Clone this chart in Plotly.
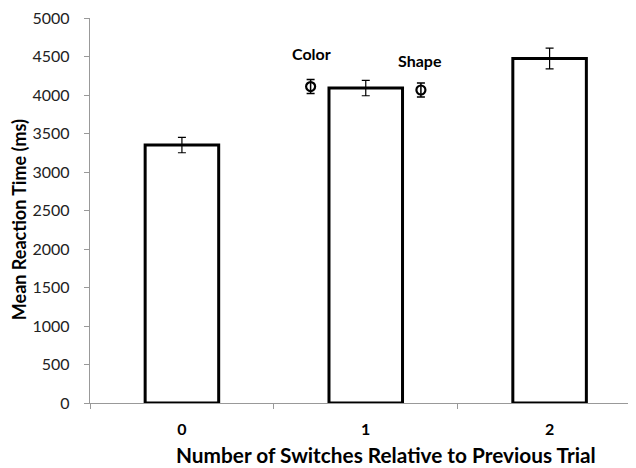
import plotly.graph_objects as go

categories = [0, 1, 2]
cat_labels = ["0", "1", "2"]
bar_means = [3350, 4090, 4475]
bar_errors = [100, 100, 135]

point_names = ["Color", "Shape"]
point_x = [0.7, 1.3]
point_means = [4110, 4065]
point_errors = [90, 90]

y_ticks = list(range(0, 5001, 500))

FONT = "Lato"

fig = go.Figure()
fig.add_trace(go.Bar(
    x=categories, y=bar_means, width=0.4,
    marker=dict(color="white", line=dict(color="black", width=3)),
    error_y=dict(type="data", array=bar_errors, color="black", thickness=1.2, width=4),
    showlegend=False,
))
fig.add_trace(go.Scatter(
    x=point_x, y=point_means, mode="markers",
    marker=dict(symbol="circle-open", size=9, color="black", line=dict(width=2.2, color="black")),
    error_y=dict(type="data", array=point_errors, color="black", thickness=1.5, width=4),
    showlegend=False,
))
# invisible trace on the secondary axis for boundary ticks
fig.add_trace(go.Scatter(x=[0], y=[0], xaxis="x2", mode="markers",
                         marker=dict(opacity=0), showlegend=False, hoverinfo="skip"))

fig.add_annotation(x=point_x[0], y=point_means[0], xref="x", yref="y", text="<b>" + point_names[0] + "</b>",
                   showarrow=False, yshift=33, xshift=1, font=dict(family=FONT, size=16, color="black"))
fig.add_annotation(x=point_x[1], y=point_means[1], xref="x", yref="y", text="<b>" + point_names[1] + "</b>",
                   showarrow=False, yshift=30, xshift=-1, font=dict(family=FONT, size=16, color="black"))

fig.add_annotation(x=0.542, y=-0.134, xref="paper", yref="paper",
                   text="<b>Number of Switches Relative to Previous Trial</b>",
                   showarrow=False, xanchor="center", yanchor="middle",
                   font=dict(family=FONT, size=20.8, color="black"))
fig.add_annotation(x=-0.13, y=0.475, xref="paper", yref="paper",
                   text="<b>Mean Reaction Time (ms)</b>", textangle=-90,
                   showarrow=False, xanchor="center", yanchor="middle",
                   font=dict(family=FONT, size=18, color="black"))

xr = [-0.5, 2.47]
fig.update_layout(
    width=628, height=460,
    margin=dict(l=82, r=0, t=8, b=65),
    paper_bgcolor="white", plot_bgcolor="white",
    xaxis=dict(range=xr, tickvals=categories, ticktext=["<b>%s</b>" % c for c in cat_labels],
               ticks="", showgrid=False, zeroline=False, showline=True, linecolor="#999999",
               linewidth=1.3, tickfont=dict(family=FONT, size=16, color="black"), ticklabelstandoff=12),
    xaxis2=dict(range=xr, overlaying="x", side="bottom", tickvals=[-0.5, 0.5, 1.5, 2.5],
                showticklabels=False, ticks="outside", ticklen=5, tickcolor="#999999",
                showgrid=False, zeroline=False, showline=False),
    yaxis=dict(range=[0, 5000], tickvals=y_ticks, ticks="outside", ticklen=5, tickcolor="#999999",
               showgrid=False, zeroline=False, showline=True, linecolor="#999999", linewidth=1.3,
               tickfont=dict(family=FONT, size=16, color="#222222"), ticklabelstandoff=11,
               ticklabeloverflow="allow"),
)

fig.write_html("out.html")
